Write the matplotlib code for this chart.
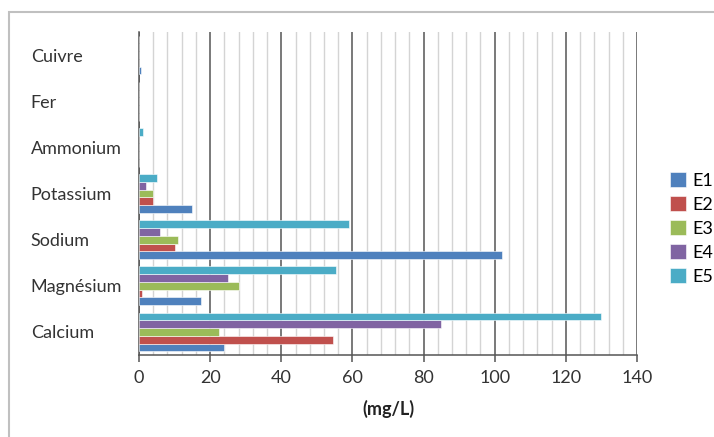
import matplotlib
matplotlib.use("Agg")
import matplotlib.pyplot as plt
import matplotlib.patches as patches
import numpy as np
from matplotlib.ticker import MultipleLocator

plt.rcParams["font.family"] = ["Lato", "DejaVu Sans"]

# categories listed from bottom to top
categories = ["Calcium", "Magnésium", "Sodium", "Potassium", "Ammonium", "Fer", "Cuivre"]
series = ["E1", "E2", "E3", "E4", "E5"]
e1 = [24, 17.5, 102, 15, 0, 0, 0.7]
e2 = [54.5, 0.8, 10, 4, 0, 0, 0]
e3 = [22.5, 28, 11, 4, 0.1, 0, 0]
e4 = [85, 25, 6, 2, 0, 0, 0]
e5 = [130, 55.5, 59, 5, 1, 0, 0]
values = [e1, e2, e3, e4, e5]
colors = ["#4F81BD", "#C0504D", "#9BBB59", "#8064A2", "#4BACC6"]

fig = plt.figure(figsize=(7.14, 4.37), dpi=100)
ax = fig.add_axes([139 / 714, 1 - 355 / 437, (637 - 139) / 714, (355 - 32) / 437])

y = np.arange(len(categories))
step = 0.168
for i, (name, vals, c) in enumerate(zip(series, values, colors)):
    ax.barh(y + (i - 2) * step, vals, height=step, color=c,
            edgecolor="white", linewidth=0.4, label=name, zorder=3)

ax.set_xlim(0, 140)
ax.set_ylim(-0.5, len(categories) - 0.5)
ax.xaxis.set_major_locator(MultipleLocator(20))
ax.xaxis.set_minor_locator(MultipleLocator(4))
ax.grid(which="minor", axis="x", color="#d4d4d4", linewidth=1.0, zorder=0)
ax.grid(which="major", axis="x", color="#555555", linewidth=1.1, zorder=1)
ax.set_axisbelow(True)

for s in ["top", "right"]:
    ax.spines[s].set_visible(False)
for s in ["left", "bottom"]:
    ax.spines[s].set_color("#555555")
    ax.spines[s].set_linewidth(1.1)

ax.set_yticks(y)
ax.set_yticklabels(categories, fontsize=13, color="#333333", ha="left")
ax.tick_params(axis="y", length=0, pad=78)
ax.tick_params(axis="x", which="major", direction="out", length=5, width=1.1,
               color="#555555", labelsize=13, labelcolor="#333333", pad=6)
ax.tick_params(axis="x", which="minor", length=0)
ax.set_xlabel("(mg/L)", fontsize=13, fontweight="bold", color="#222222", labelpad=10)

handles, labels = ax.get_legend_handles_labels()
fig.legend(handles, labels, loc="upper left", bbox_to_anchor=(0.921, 0.635),
           frameon=False, fontsize=13, handlelength=0.9, handleheight=0.9,
           handletextpad=0.3, labelspacing=0.4, borderpad=0.2)

# outer chart frame (cut off at right and bottom in the reference)
fig.patches.append(patches.Rectangle((9 / 714, -0.1), 1.2, 1.1 - 12 / 437,
                                     transform=fig.transFigure, fill=False,
                                     edgecolor="#c0c0c0", linewidth=1.5))

fig.savefig("out.png", dpi=100)
